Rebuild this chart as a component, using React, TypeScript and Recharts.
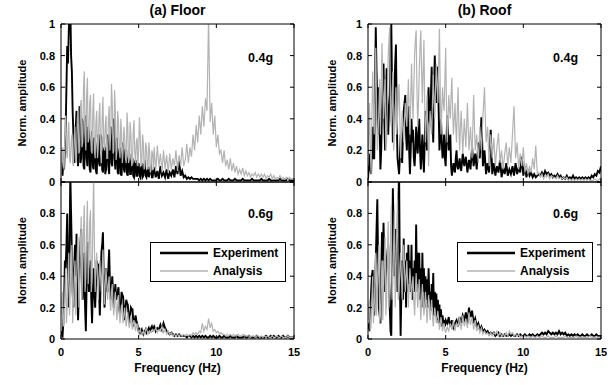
import { Legend, Line, LineChart, XAxis, YAxis } from "recharts";

// frequency bins (Hz): fine below 6 Hz, coarser above
const freq = [
  0, 0.05, 0.1, 0.15, 0.2, 0.25, 0.3, 0.35, 0.4, 0.45, 0.5, 0.55, 0.6, 0.65, 0.7, 0.75, 0.8, 0.85, 0.9, 0.95,
  1, 1.05, 1.1, 1.15, 1.2, 1.25, 1.3, 1.35, 1.4, 1.45, 1.5, 1.55, 1.6, 1.65, 1.7, 1.75, 1.8, 1.85, 1.9, 1.95,
  2, 2.05, 2.1, 2.15, 2.2, 2.25, 2.3, 2.35, 2.4, 2.45, 2.5, 2.55, 2.6, 2.65, 2.7, 2.75, 2.8, 2.85, 2.9, 2.95,
  3, 3.05, 3.1, 3.15, 3.2, 3.25, 3.3, 3.35, 3.4, 3.45, 3.5, 3.55, 3.6, 3.65, 3.7, 3.75, 3.8, 3.85, 3.9, 3.95,
  4, 4.05, 4.1, 4.15, 4.2, 4.25, 4.3, 4.35, 4.4, 4.45, 4.5, 4.55, 4.6, 4.65, 4.7, 4.75, 4.8, 4.85, 4.9, 4.95,
  5, 5.05, 5.1, 5.15, 5.2, 5.25, 5.3, 5.35, 5.4, 5.45, 5.5, 5.55, 5.6, 5.65, 5.7, 5.75, 5.8, 5.85, 5.9, 5.95,
  6, 6.1, 6.2, 6.3, 6.4, 6.5, 6.6, 6.7, 6.8, 6.9,
  7, 7.1, 7.2, 7.3, 7.4, 7.5, 7.6, 7.7, 7.8, 7.9,
  8, 8.1, 8.2, 8.3, 8.4, 8.5, 8.6, 8.7, 8.8, 8.9,
  9, 9.1, 9.2, 9.3, 9.4, 9.5, 9.6, 9.7, 9.8, 9.9,
  10, 10.1, 10.2, 10.3, 10.4, 10.5, 10.6, 10.7, 10.8, 10.9,
  11, 11.1, 11.2, 11.3, 11.4, 11.5, 11.6, 11.7, 11.8, 11.9,
  12, 12.1, 12.2, 12.3, 12.4, 12.5, 12.6, 12.7, 12.8, 12.9,
  13, 13.1, 13.2, 13.3, 13.4, 13.5, 13.6, 13.7, 13.8, 13.9,
  14, 14.1, 14.2, 14.3, 14.4, 14.5, 14.6, 14.7, 14.8, 14.9,
  15,
];

// (a) Floor, 0.4g
const floorExp04 = [
  0.06, 0.12, 0.04, 0.15, 0.08, 0.22, 0.33, 0.6, 0.86, 0.75, 0.95, 1.1, 1.12, 0.8, 0.7, 0.45, 0.3, 0.2, 0.12, 0.35,
  0.45, 0.2, 0.1, 0.38, 0.48, 0.12, 0.15, 0.4, 0.38, 0.1, 0.08, 0.3, 0.42, 0.15, 0.1, 0.35, 0.3, 0.08, 0.06, 0.25,
  0.32, 0.1, 0.08, 0.28, 0.25, 0.07, 0.05, 0.22, 0.3, 0.12, 0.1, 0.3, 0.28, 0.08, 0.06, 0.2, 0.22, 0.05, 0.08, 0.25,
  0.3, 0.1, 0.05, 0.3, 0.35, 0.12, 0.1, 0.38, 0.4, 0.15, 0.08, 0.25, 0.28, 0.06, 0.05, 0.2, 0.22, 0.05, 0.04, 0.18,
  0.25, 0.08, 0.06, 0.2, 0.2, 0.05, 0.04, 0.15, 0.18, 0.05, 0.05, 0.14, 0.15, 0.04, 0.03, 0.12, 0.14, 0.04, 0.04, 0.1,
  0.12, 0.04, 0.03, 0.09, 0.1, 0.03, 0.04, 0.11, 0.12, 0.04, 0.03, 0.07, 0.08, 0.03, 0.05, 0.09, 0.1, 0.03, 0.03, 0.07,
  0.08, 0.03, 0.07, 0.02, 0.1, 0.04, 0.06, 0.03, 0.08, 0.02,
  0.06, 0.04, 0.08, 0.03, 0.1, 0.05, 0.14, 0.04, 0.07, 0.03,
  0.04, 0.02, 0.03, 0.02, 0.03, 0.02, 0.02, 0.02, 0.02, 0.01,
  0.02, 0.01, 0.02, 0.01, 0.02, 0.01, 0.02, 0.01, 0.01, 0.01,
  0.01, 0.02, 0.01, 0.01, 0.02, 0.01, 0.01, 0.01, 0.02, 0.01,
  0.01, 0.01, 0.02, 0.01, 0.01, 0.01, 0.01, 0.02, 0.01, 0.01,
  0.01, 0.01, 0.01, 0.02, 0.01, 0.01, 0.01, 0.01, 0.01, 0.02,
  0.01, 0.01, 0.01, 0.01, 0.02, 0.01, 0.01, 0.01, 0.01, 0.01,
  0.01, 0.02, 0.01, 0.01, 0.01, 0.01, 0.02, 0.01, 0.01, 0.01,
  0.01,
];
const floorAna04 = [
  0.03, 0.12, 0.22, 0.1, 0.08, 0.3, 0.42, 0.2, 0.15, 0.3, 0.38, 0.15, 0.12, 0.25, 0.3, 0.12, 0.1, 0.28, 0.35, 0.12,
  0.15, 0.4, 0.45, 0.18, 0.2, 0.48, 0.52, 0.22, 0.25, 0.6, 0.7, 0.3, 0.2, 0.55, 0.66, 0.25, 0.28, 0.5, 0.55, 0.2,
  0.18, 0.45, 0.56, 0.2, 0.15, 0.38, 0.45, 0.15, 0.22, 0.42, 0.5, 0.18, 0.12, 0.4, 0.54, 0.25, 0.2, 0.36, 0.42, 0.15,
  0.15, 0.4, 0.48, 0.2, 0.3, 0.62, 0.5, 0.18, 0.2, 0.58, 0.45, 0.14, 0.2, 0.45, 0.38, 0.2, 0.15, 0.4, 0.3, 0.12,
  0.2, 0.35, 0.28, 0.15, 0.12, 0.44, 0.35, 0.12, 0.15, 0.38, 0.3, 0.1, 0.12, 0.32, 0.39, 0.18, 0.12, 0.25, 0.28, 0.1,
  0.2, 0.41, 0.3, 0.1, 0.12, 0.3, 0.25, 0.08, 0.1, 0.25, 0.22, 0.1, 0.08, 0.25, 0.2, 0.06, 0.08, 0.2, 0.18, 0.08,
  0.22, 0.07, 0.23, 0.1, 0.18, 0.06, 0.2, 0.08, 0.17, 0.06,
  0.18, 0.08, 0.15, 0.1, 0.2, 0.07, 0.17, 0.1, 0.22, 0.1,
  0.14, 0.24, 0.12, 0.22, 0.16, 0.3, 0.2, 0.36, 0.25, 0.42,
  0.3, 0.48, 0.35, 0.53, 0.45, 1.05, 0.38, 0.5, 0.3, 0.42,
  0.22, 0.3, 0.18, 0.2, 0.12, 0.2, 0.1, 0.14, 0.08, 0.15,
  0.07, 0.12, 0.06, 0.1, 0.05, 0.08, 0.05, 0.09, 0.04, 0.07,
  0.04, 0.06, 0.03, 0.05, 0.04, 0.06, 0.03, 0.05, 0.03, 0.05,
  0.03, 0.05, 0.02, 0.04, 0.03, 0.05, 0.02, 0.04, 0.02, 0.03,
  0.02, 0.04, 0.02, 0.03, 0.02, 0.03, 0.01, 0.03, 0.02, 0.02,
  0.02,
];

// (b) Roof, 0.4g
const roofExp04 = [
  0.02, 0.1, 0.18, 0.08, 0.05, 0.25, 0.35, 0.15, 0.15, 0.6, 0.98, 0.7, 0.5, 0.3, 0.6, 0.35, 0.08, 0.2, 0.45, 0.6,
  0.75, 0.4, 0.2, 0.5, 0.72, 0.45, 0.3, 0.45, 0.55, 0.85, 1.0, 0.6, 0.25, 0.4, 0.6, 0.75, 0.87, 0.4, 0.15, 0.1,
  0.05, 0.15, 0.3, 0.2, 0.12, 0.3, 0.45, 0.5, 0.55, 0.3, 0.2, 0.35, 0.48, 0.2, 0.05, 0.2, 0.4, 0.25, 0.33, 0.15,
  0.1, 0.2, 0.35, 0.25, 0.18, 0.3, 0.4, 0.2, 0.08, 0.2, 0.3, 0.15, 0.06, 0.25, 0.45, 0.3, 0.2, 0.45, 0.6, 0.4,
  0.35, 0.55, 0.73, 0.4, 0.25, 0.6, 0.8, 0.6, 0.5, 0.65, 0.73, 0.45, 0.2, 0.3, 0.4, 0.25, 0.15, 0.2, 0.3, 0.15,
  0.1, 0.25, 0.42, 0.3, 0.2, 0.25, 0.3, 0.1, 0.04, 0.08, 0.12, 0.08, 0.06, 0.15, 0.2, 0.1, 0.08, 0.12, 0.15, 0.09,
  0.07, 0.18, 0.1, 0.16, 0.06, 0.14, 0.08, 0.22, 0.1, 0.18,
  0.08, 0.25, 0.15, 0.41, 0.1, 0.2, 0.05, 0.12, 0.06, 0.33,
  0.05, 0.12, 0.04, 0.1, 0.06, 0.14, 0.03, 0.09, 0.05, 0.12,
  0.04, 0.08, 0.05, 0.1, 0.04, 0.12, 0.05, 0.09, 0.06, 0.16,
  0.04, 0.1, 0.03, 0.08, 0.04, 0.06, 0.03, 0.05, 0.03, 0.04,
  0.05, 0.04, 0.06, 0.04, 0.07, 0.05, 0.06, 0.04, 0.05, 0.03,
  0.04, 0.03, 0.05, 0.03, 0.04, 0.02, 0.03, 0.02, 0.04, 0.02,
  0.03, 0.02, 0.04, 0.02, 0.03, 0.02, 0.03, 0.02, 0.03, 0.02,
  0.03, 0.02, 0.03, 0.02, 0.04, 0.03, 0.05, 0.04, 0.07, 0.06,
  0.1,
];
const roofAna04 = [
  0.1, 0.3, 0.5, 0.2, 0.05, 0.4, 0.7, 0.5, 0.3, 0.6, 0.85, 0.5, 0.2, 0.3, 0.45, 0.65, 0.3, 0.6, 0.88, 0.6,
  0.4, 0.55, 0.65, 0.2, 0.25, 0.55, 0.8, 0.9, 0.98, 0.4, 0.35, 0.5, 0.7, 0.2, 0.3, 0.45, 0.6, 0.3, 0.4, 0.55,
  0.62, 0.4, 0.15, 0.3, 0.45, 0.35, 0.25, 0.4, 0.5, 0.4, 0.35, 0.5, 0.65, 0.45, 0.3, 0.5, 0.75, 0.55, 0.4, 0.6,
  0.8, 0.9, 0.96, 0.6, 0.35, 0.5, 0.7, 0.85, 0.96, 0.7, 0.5, 0.7, 0.9, 0.5, 0.25, 0.4, 0.55, 0.3, 0.1, 0.3,
  0.45, 0.35, 0.3, 0.5, 0.68, 0.5, 0.4, 0.6, 0.75, 0.6, 0.5, 0.75, 0.97, 0.6, 0.3, 0.45, 0.6, 0.5, 0.45, 0.65,
  0.85, 0.5, 0.25, 0.4, 0.55, 0.45, 0.4, 0.55, 0.66, 0.45, 0.3, 0.4, 0.5, 0.35, 0.25, 0.45, 0.6, 0.35, 0.2, 0.35,
  0.45, 0.18, 0.4, 0.22, 0.5, 0.2, 0.35, 0.15, 0.55, 0.2,
  0.3, 0.12, 0.35, 0.2, 0.42, 0.6, 0.25, 0.35, 0.1, 0.3,
  0.15, 0.28, 0.1, 0.22, 0.31, 0.12, 0.2, 0.08, 0.18, 0.25,
  0.1, 0.22, 0.12, 0.3, 0.48, 0.15, 0.25, 0.08, 0.18, 0.1,
  0.22, 0.06, 0.12, 0.05, 0.1, 0.06, 0.15, 0.08, 0.23, 0.05,
  0.06, 0.03, 0.05, 0.02, 0.04, 0.03, 0.05, 0.02, 0.04, 0.03,
  0.03, 0.02, 0.04, 0.02, 0.03, 0.02, 0.03, 0.02, 0.03, 0.01,
  0.02, 0.01, 0.02, 0.01, 0.02, 0.01, 0.02, 0.01, 0.02, 0.01,
  0.02, 0.01, 0.02, 0.01, 0.01, 0.01, 0.02, 0.01, 0.01, 0.02,
  0.01,
];

// (a) Floor, 0.6g
const floorExp06 = [
  0.05, 0.03, 0.02, 0.1, 0.25, 0.5, 0.45, 0.6, 0.8, 0.4, 0.2, 0.6, 1.05, 0.8, 0.55, 0.3, 0.2, 0.45, 0.6, 0.4,
  0.67, 0.3, 0.12, 0.3, 0.45, 0.6, 0.7, 0.4, 0.25, 0.4, 0.55, 0.2, 0.05, 0.35, 0.62, 0.45, 0.3, 0.4, 0.5, 0.25,
  0.1, 0.3, 0.45, 0.3, 0.2, 0.35, 0.5, 0.45, 0.48, 0.3, 0.15, 0.35, 0.55, 0.6, 0.68, 0.4, 0.2, 0.3, 0.45, 0.35,
  0.3, 0.45, 0.57, 0.35, 0.25, 0.32, 0.4, 0.3, 0.2, 0.28, 0.35, 0.25, 0.28, 0.3, 0.33, 0.2, 0.15, 0.22, 0.3, 0.28,
  0.27, 0.18, 0.12, 0.2, 0.25, 0.23, 0.22, 0.15, 0.1, 0.15, 0.2, 0.19, 0.19, 0.12, 0.08, 0.12, 0.15, 0.12, 0.1, 0.07,
  0.05, 0.06, 0.04, 0.05, 0.06, 0.04, 0.03, 0.05, 0.05, 0.06, 0.04, 0.05, 0.06, 0.07, 0.05, 0.06, 0.07, 0.08, 0.06, 0.07,
  0.08, 0.05, 0.07, 0.06, 0.09, 0.06, 0.1, 0.07, 0.05, 0.04,
  0.03, 0.04, 0.03, 0.02, 0.03, 0.02, 0.03, 0.02, 0.02, 0.02,
  0.02, 0.01, 0.02, 0.02, 0.01, 0.02, 0.01, 0.02, 0.01, 0.02,
  0.01, 0.02, 0.01, 0.02, 0.01, 0.01, 0.02, 0.01, 0.02, 0.01,
  0.01, 0.01, 0.02, 0.01, 0.01, 0.02, 0.01, 0.01, 0.01, 0.02,
  0.01, 0.01, 0.01, 0.02, 0.01, 0.01, 0.01, 0.01, 0.02, 0.01,
  0.01, 0.02, 0.01, 0.01, 0.01, 0.01, 0.02, 0.01, 0.01, 0.01,
  0.01, 0.01, 0.02, 0.01, 0.01, 0.02, 0.01, 0.02, 0.01, 0.01,
  0.02, 0.01, 0.01, 0.02, 0.01, 0.01, 0.02, 0.01, 0.01, 0.01,
  0.01,
];
const floorAna06 = [
  0.15, 0.25, 0.3, 0.08, 0.1, 0.3, 0.45, 0.1, 0.2, 0.4, 0.55, 0.15, 0.3, 0.45, 0.6, 0.1, 0.25, 0.4, 0.5, 0.15,
  0.35, 0.55, 0.65, 0.2, 0.3, 0.6, 0.78, 0.25, 0.45, 0.7, 0.85, 0.3, 0.4, 0.7, 0.88, 0.35, 0.5, 0.75, 0.82, 0.3,
  0.4, 0.7, 1.05, 0.6, 0.3, 0.45, 0.55, 0.4, 0.25, 0.4, 0.5, 0.4, 0.3, 0.45, 0.57, 0.4, 0.22, 0.35, 0.45, 0.35,
  0.25, 0.35, 0.4, 0.25, 0.18, 0.3, 0.35, 0.22, 0.15, 0.25, 0.3, 0.2, 0.12, 0.22, 0.28, 0.18, 0.1, 0.18, 0.22, 0.15,
  0.1, 0.16, 0.2, 0.12, 0.08, 0.14, 0.17, 0.1, 0.07, 0.12, 0.15, 0.09, 0.06, 0.1, 0.12, 0.08, 0.05, 0.08, 0.1, 0.06,
  0.04, 0.05, 0.06, 0.04, 0.03, 0.04, 0.05, 0.03, 0.04, 0.06, 0.07, 0.05, 0.03, 0.04, 0.05, 0.04, 0.04, 0.05, 0.06, 0.05,
  0.05, 0.07, 0.04, 0.06, 0.05, 0.08, 0.04, 0.06, 0.03, 0.05,
  0.03, 0.04, 0.02, 0.03, 0.02, 0.03, 0.02, 0.03, 0.02, 0.03,
  0.02, 0.03, 0.02, 0.03, 0.02, 0.04, 0.03, 0.04, 0.03, 0.05,
  0.04, 0.1, 0.05, 0.08, 0.06, 0.13, 0.07, 0.1, 0.05, 0.06,
  0.04, 0.05, 0.03, 0.04, 0.03, 0.03, 0.02, 0.03, 0.02, 0.03,
  0.02, 0.03, 0.02, 0.02, 0.03, 0.02, 0.02, 0.03, 0.02, 0.02,
  0.02, 0.02, 0.01, 0.02, 0.02, 0.01, 0.02, 0.02, 0.01, 0.02,
  0.01, 0.02, 0.01, 0.02, 0.01, 0.01, 0.02, 0.01, 0.01, 0.02,
  0.01, 0.01, 0.02, 0.01, 0.01, 0.01, 0.02, 0.01, 0.01, 0.01,
  0.01,
];

// (b) Roof, 0.6g
const roofExp06 = [
  0.1, 0.08, 0.05, 0.15, 0.3, 0.4, 0.44, 0.25, 0.15, 0.35, 0.5, 0.7, 0.89, 0.5, 0.2, 0.15, 0.1, 0.4, 0.68, 0.5,
  0.74, 0.5, 0.3, 0.4, 0.5, 0.55, 0.6, 0.4, 0.2, 0.05, 0.02, 0.5, 0.96, 0.7, 0.4, 0.55, 0.7, 0.5, 0.3, 0.8,
  1.1, 0.4, 0.02, 0.3, 0.5, 0.25, 0.64, 0.3, 0.5, 0.2, 0.55, 0.3, 0.6, 0.35, 0.5, 0.3, 0.6, 0.25, 0.45, 0.3,
  0.5, 0.3, 0.73, 0.35, 0.55, 0.3, 0.55, 0.25, 0.45, 0.2, 0.55, 0.3, 0.45, 0.2, 0.4, 0.25, 0.38, 0.2, 0.45, 0.25,
  0.3, 0.18, 0.35, 0.2, 0.42, 0.15, 0.3, 0.15, 0.29, 0.12, 0.25, 0.1, 0.22, 0.1, 0.19, 0.08, 0.15, 0.1, 0.12, 0.08,
  0.12, 0.11, 0.1, 0.12, 0.14, 0.1, 0.08, 0.1, 0.12, 0.09, 0.07, 0.08, 0.1, 0.11, 0.12, 0.1, 0.08, 0.11, 0.14, 0.12,
  0.1, 0.15, 0.12, 0.17, 0.1, 0.2, 0.14, 0.18, 0.1, 0.13,
  0.08, 0.1, 0.06, 0.08, 0.05, 0.06, 0.04, 0.05, 0.03, 0.04,
  0.03, 0.04, 0.02, 0.03, 0.04, 0.02, 0.03, 0.02, 0.03, 0.02,
  0.02, 0.03, 0.02, 0.03, 0.02, 0.02, 0.03, 0.02, 0.03, 0.02,
  0.02, 0.03, 0.02, 0.02, 0.03, 0.02, 0.03, 0.02, 0.02, 0.03,
  0.02, 0.03, 0.04, 0.03, 0.04, 0.03, 0.05, 0.04, 0.03, 0.04,
  0.03, 0.04, 0.03, 0.05, 0.03, 0.04, 0.03, 0.04, 0.02, 0.03,
  0.02, 0.03, 0.02, 0.03, 0.02, 0.03, 0.02, 0.02, 0.03, 0.02,
  0.02, 0.03, 0.02, 0.02, 0.03, 0.02, 0.02, 0.03, 0.02, 0.02,
  0.02,
];
const roofAna06 = [
  0.12, 0.2, 0.25, 0.05, 0.08, 0.25, 0.4, 0.1, 0.2, 0.4, 0.55, 0.15, 0.3, 0.45, 0.6, 0.1, 0.15, 0.35, 0.5, 0.12,
  0.3, 0.5, 0.65, 0.15, 0.25, 0.55, 0.75, 0.2, 0.4, 0.65, 0.85, 0.25, 0.35, 0.6, 0.82, 0.2, 0.45, 0.7, 0.89, 0.25,
  0.3, 0.45, 0.55, 0.4, 0.25, 0.45, 0.6, 0.45, 0.3, 0.4, 0.5, 0.35, 0.2, 0.35, 0.45, 0.35, 0.25, 0.35, 0.4, 0.25,
  0.15, 0.3, 0.42, 0.3, 0.2, 0.3, 0.38, 0.25, 0.12, 0.25, 0.35, 0.25, 0.15, 0.22, 0.3, 0.2, 0.1, 0.2, 0.28, 0.2,
  0.12, 0.2, 0.25, 0.15, 0.08, 0.15, 0.2, 0.15, 0.1, 0.14, 0.18, 0.12, 0.06, 0.1, 0.14, 0.1, 0.05, 0.08, 0.1, 0.06,
  0.04, 0.06, 0.08, 0.06, 0.05, 0.08, 0.1, 0.08, 0.06, 0.09, 0.12, 0.08, 0.05, 0.08, 0.1, 0.09, 0.08, 0.11, 0.14, 0.1,
  0.06, 0.15, 0.08, 0.13, 0.07, 0.17, 0.09, 0.14, 0.06, 0.12,
  0.05, 0.09, 0.04, 0.07, 0.03, 0.05, 0.03, 0.04, 0.02, 0.04,
  0.02, 0.04, 0.03, 0.05, 0.02, 0.04, 0.02, 0.03, 0.02, 0.04,
  0.02, 0.05, 0.03, 0.04, 0.02, 0.03, 0.02, 0.03, 0.01, 0.02,
  0.01, 0.02, 0.01, 0.02, 0.01, 0.01, 0.02, 0.01, 0.01, 0.02,
  0.01, 0.01, 0.02, 0.01, 0.01, 0.01, 0.02, 0.01, 0.01, 0.01,
  0.01, 0.02, 0.01, 0.01, 0.01, 0.01, 0.01, 0.02, 0.01, 0.01,
  0.01, 0.01, 0.01, 0.01, 0.02, 0.01, 0.01, 0.01, 0.01, 0.01,
  0.01, 0.01, 0.01, 0.02, 0.01, 0.01, 0.01, 0.01, 0.01, 0.01,
  0.01,
];

const xTicks = [0, 5, 10, 15];
const yTicks = [0, 0.2, 0.4, 0.6, 0.8, 1];

const rows = freq.map((f, i) => ({
  f,
  floorExp04: floorExp04[i],
  floorAna04: floorAna04[i],
  roofExp04: roofExp04[i],
  roofAna04: roofAna04[i],
  floorExp06: floorExp06[i],
  floorAna06: floorAna06[i],
  roofExp06: roofExp06[i],
  roofAna06: roofAna06[i],
}));

const font = "'Liberation Sans', Arial, Helvetica, sans-serif";
const tickFont = { fontSize: 11, fontWeight: 700, fill: "#000", fontFamily: font };
const labelFont = { fontSize: 12, fontWeight: 700, fill: "#000", fontFamily: font };
const EXP = "#000000";
const ANA = "#b3b3b3";

const blank = () => "";
const fmtY = (v: number) => (v === 0 || v === 1 ? String(v) : v.toFixed(1));
const fmtYLow = (v: number) => (v === 1 ? "" : fmtY(v));

function LegendBox() {
  return (
    <svg width={136} height={40} style={{ display: "block" }}>
      <rect x={0.5} y={0.5} width={135} height={39} fill="#fff" stroke="#000" strokeWidth={1} />
      <line x1={10} x2={58} y1={11} y2={11} stroke={EXP} strokeWidth={2.5} />
      <line x1={10} x2={58} y1={29} y2={29} stroke={ANA} strokeWidth={1.5} />
      <text x={63} y={11} dy="0.35em" {...labelFont}>Experiment</text>
      <text x={63} y={29} dy="0.35em" {...labelFont}>Analysis</text>
    </svg>
  );
}

type PanelProps = {
  left: number;
  lower: boolean;
  expKey: string;
  anaKey: string;
  title?: string;
  yLabelOffset: number;
};

function Panel({ left, lower, expKey, anaKey, title, yLabelOffset }: PanelProps) {
  const top = lower ? 178 : 0;
  const height = lower ? 201 : 192;
  return (
    <div style={{ position: "absolute", left, top, width: 300, height }}>
      <LineChart
        width={300}
        height={height}
        data={rows}
        margin={{ top: lower ? 0 : 20, right: 0, bottom: 0, left: 0 }}
      >
        <XAxis
          dataKey="f"
          type="number"
          domain={[0, 15]}
          ticks={xTicks}
          interval={0}
          allowDataOverflow
          height={lower ? 40 : 10}
          stroke="#000"
          tickSize={-4}
          tickMargin={13}
          tick={tickFont}
          tickFormatter={lower ? undefined : blank}
          label={
            lower
              ? { value: "Frequency (Hz)", position: "insideBottom", offset: 7, style: labelFont }
              : undefined
          }
        />
        <XAxis
          xAxisId="top"
          orientation="top"
          dataKey="f"
          type="number"
          domain={[0, 15]}
          ticks={xTicks}
          interval={0}
          allowDataOverflow
          height={4}
          stroke="#000"
          tickSize={-4}
          tick={tickFont}
          tickFormatter={blank}
          label={
            title
              ? { value: title, position: "top", offset: 5, style: { ...labelFont, fontSize: 14 } }
              : undefined
          }
        />
        <YAxis
          type="number"
          domain={[0, 1]}
          ticks={yTicks}
          interval={0}
          allowDataOverflow
          width={61}
          stroke="#000"
          tickSize={-4}
          tickMargin={10}
          tick={tickFont}
          tickFormatter={lower ? fmtYLow : fmtY}
          label={{
            value: "Norm. amplitude",
            angle: -90,
            position: "insideLeft",
            offset: yLabelOffset,
            style: { ...labelFont, fontSize: 11, textAnchor: "middle" },
          }}
        />
        <YAxis
          yAxisId="right"
          orientation="right"
          type="number"
          domain={[0, 1]}
          ticks={yTicks}
          interval={0}
          allowDataOverflow
          width={6}
          stroke="#000"
          tickSize={-4}
          tick={tickFont}
          tickFormatter={blank}
        />
        <Line
          dataKey={expKey}
          name="Experiment"
          type="linear"
          stroke={EXP}
          strokeWidth={1.9}
          dot={false}
          isAnimationActive={false}
        />
        <Line
          dataKey={anaKey}
          name="Analysis"
          type="linear"
          stroke={ANA}
          strokeWidth={1.2}
          dot={false}
          isAnimationActive={false}
        />
        {lower && (
          <Legend
            layout="horizontal"
            align="center"
            verticalAlign="middle"
            content={() => <LegendBox />}
            wrapperStyle={{ left: 150, top: 64, width: 136, height: 40 }}
          />
        )}
      </LineChart>
    </div>
  );
}

const levelStyle = {
  position: "absolute" as const,
  fontFamily: font,
  fontWeight: 700,
  fontSize: 12.5,
  lineHeight: "13px",
  color: "#000",
};

export default function App() {
  return (
    <div
      style={{
        position: "absolute",
        left: 0,
        top: 0,
        width: 614,
        height: 385,
        background: "#fff",
        overflow: "hidden",
      }}
    >
      <Panel left={0} lower={false} expKey="floorExp04" anaKey="floorAna04" title="(a) Floor" yLabelOffset={22} />
      <Panel left={307} lower={false} expKey="roofExp04" anaKey="roofAna04" title="(b) Roof" yLabelOffset={25} />
      <Panel left={0} lower expKey="floorExp06" anaKey="floorAna06" yLabelOffset={22} />
      <Panel left={307} lower expKey="roofExp06" anaKey="roofAna06" yLabelOffset={25} />
      <div style={{ ...levelStyle, left: 248, top: 52 }}>0.4g</div>
      <div style={{ ...levelStyle, left: 553, top: 52 }}>0.4g</div>
      <div style={{ ...levelStyle, left: 248, top: 208 }}>0.6g</div>
      <div style={{ ...levelStyle, left: 553, top: 208 }}>0.6g</div>
    </div>
  );
}
